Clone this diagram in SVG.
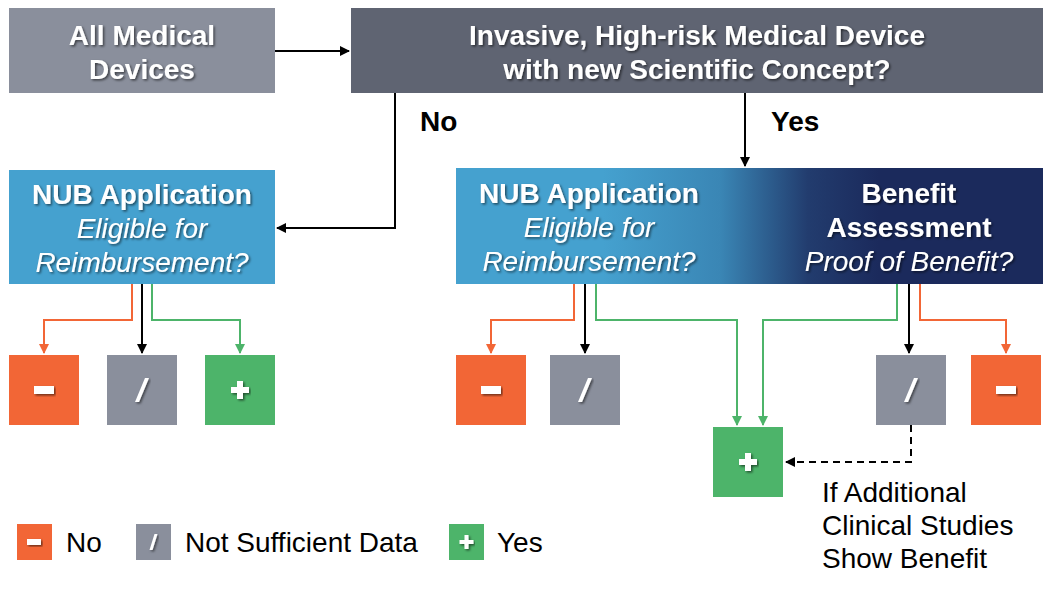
<svg xmlns="http://www.w3.org/2000/svg" width="1052" height="589" viewBox="0 0 1052 589">
<style>
.t{font-family:"Liberation Sans",Arial,sans-serif;fill:#fff;text-anchor:middle;font-size:28px}
.b{font-weight:bold}
.i{font-style:italic}
.k{font-family:"Liberation Sans",Arial,sans-serif;fill:#000;font-size:28px}
.c{fill:none;stroke-width:2}
.sym{fill:#fff}
</style>
<defs>
<filter id="sh" x="-10%" y="-20%" width="120%" height="150%">
<feDropShadow dx="1.5" dy="1.5" stdDeviation="0.8" flood-color="#000" flood-opacity="0.55"/>
</filter>
<linearGradient id="g" x1="0" y1="0" x2="1" y2="0">
<stop offset="0.25" stop-color="#45a1cf"/>
<stop offset="0.45" stop-color="#3a86b5"/>
<stop offset="0.6" stop-color="#223c6e"/>
<stop offset="0.72" stop-color="#1b2a5c"/>
<stop offset="1" stop-color="#1b2a5c"/>
</linearGradient>
<marker id="ak" markerWidth="10" markerHeight="10" refX="9" refY="5" orient="auto" markerUnits="userSpaceOnUse"><path d="M0,0 L10,5 L0,10 z" fill="#000"/></marker>
<marker id="ar" markerWidth="10" markerHeight="10" refX="9" refY="5" orient="auto" markerUnits="userSpaceOnUse"><path d="M0,0 L10,5 L0,10 z" fill="#f26636"/></marker>
<marker id="ag" markerWidth="10" markerHeight="10" refX="9" refY="5" orient="auto" markerUnits="userSpaceOnUse"><path d="M0,0 L10,5 L0,10 z" fill="#4db46a"/></marker>
<g id="minus"><rect x="-10" y="-4" width="20" height="8" class="sym" filter="url(#sh)"/></g>
<g id="slash"><path d="M3,-12 L7,-12 L-3,12 L-7,12 z" class="sym" filter="url(#sh)"/></g>
<g id="plus"><path d="M-3,-9 H3 V-3 H9 V3 H3 V9 H-3 V3 H-9 V-3 H-3 z" class="sym" filter="url(#sh)"/></g>
</defs>
<rect width="1052" height="589" fill="#fff"/>

<g id="connectors">
<path class="c" stroke="#000" d="M275,51 H349" marker-end="url(#ak)"/>
<path class="c" stroke="#000" d="M395,93 V228 H277" marker-end="url(#ak)"/>
<path class="c" stroke="#000" d="M745,93 V166" marker-end="url(#ak)"/>
<path class="c" stroke="#f26636" d="M132,284 V320 H44 V353" marker-end="url(#ar)"/>
<path class="c" stroke="#000" d="M142,284 V353" marker-end="url(#ak)"/>
<path class="c" stroke="#4db46a" d="M152,284 V320 H240 V353" marker-end="url(#ag)"/>
<path class="c" stroke="#f26636" d="M574,284 V320 H491 V353" marker-end="url(#ar)"/>
<path class="c" stroke="#000" d="M585,284 V353" marker-end="url(#ak)"/>
<path class="c" stroke="#4db46a" d="M596,284 V320 H737 V425" marker-end="url(#ag)"/>
<path class="c" stroke="#4db46a" d="M897,284 V320 H763 V425" marker-end="url(#ag)"/>
<path class="c" stroke="#000" d="M909,284 V353" marker-end="url(#ak)"/>
<path class="c" stroke="#f26636" d="M920,284 V320 H1006 V353" marker-end="url(#ar)"/>
<path class="c" stroke="#000" stroke-dasharray="7,5" d="M911,425 V462 H786" marker-end="url(#ak)"/>
</g>

<g id="all-devices">
<rect x="9" y="8" width="266" height="85" fill="#8a8f9c"/>
<text class="t b" filter="url(#sh)" x="142" y="45">All Medical</text>
<text class="t b" filter="url(#sh)" x="142" y="79">Devices</text>
</g>

<g id="invasive">
<rect x="351" y="8" width="692" height="85" fill="#5f6472"/>
<text class="t b" filter="url(#sh)" x="697" y="45">Invasive, High-risk Medical Device</text>
<text class="t b" filter="url(#sh)" x="697" y="79">with new Scientific Concept?</text>
</g>

<text id="label-no" class="k b" x="420" y="131">No</text>
<text id="label-yes" class="k b" x="771" y="131">Yes</text>

<g id="nub-left">
<rect x="9" y="170" width="266" height="114" fill="#45a1cf"/>
<text class="t b" filter="url(#sh)" x="142" y="204">NUB Application</text>
<text class="t i" filter="url(#sh)" x="142" y="238">Eligible for</text>
<text class="t i" filter="url(#sh)" x="142" y="272">Reimbursement?</text>
</g>

<g id="nub-benefit">
<rect x="456" y="168" width="587" height="116" fill="url(#g)"/>
<text class="t b" filter="url(#sh)" x="589" y="203">NUB Application</text>
<text class="t i" filter="url(#sh)" x="589" y="237">Eligible for</text>
<text class="t i" filter="url(#sh)" x="589" y="271">Reimbursement?</text>
<text class="t b" filter="url(#sh)" x="909" y="203">Benefit</text>
<text class="t b" filter="url(#sh)" x="909" y="237">Assessment</text>
<text class="t i" filter="url(#sh)" x="909" y="271">Proof of Benefit?</text>
</g>

<g id="left-no"><rect x="9" y="355" width="70" height="70" fill="#f26636"/><use href="#minus" x="44" y="390"/></g>
<g id="left-insuff"><rect x="107" y="355" width="70" height="70" fill="#8a8f9c"/><use href="#slash" x="142" y="390"/></g>
<g id="left-yes"><rect x="205" y="355" width="70" height="70" fill="#4db46a"/><use href="#plus" x="240" y="390"/></g>

<g id="right-no1"><rect x="456" y="355" width="70" height="70" fill="#f26636"/><use href="#minus" x="491" y="390"/></g>
<g id="right-insuff1"><rect x="550" y="355" width="70" height="70" fill="#8a8f9c"/><use href="#slash" x="585" y="390"/></g>
<g id="right-yes"><rect x="713" y="427" width="70" height="70" fill="#4db46a"/><use href="#plus" x="748" y="462"/></g>
<g id="right-insuff2"><rect x="876" y="355" width="70" height="70" fill="#8a8f9c"/><use href="#slash" x="911" y="390"/></g>
<g id="right-no2"><rect x="971" y="355" width="70" height="70" fill="#f26636"/><use href="#minus" x="1006" y="390"/></g>

<g id="note">
<text class="k" x="822" y="502">If Additional</text>
<text class="k" x="822" y="535">Clinical Studies</text>
<text class="k" x="822" y="568">Show Benefit</text>
</g>

<g id="legend">
<rect x="17" y="524" width="35" height="36" fill="#f26636"/>
<rect x="27" y="539" width="14" height="6" class="sym" filter="url(#sh)"/>
<text class="k" x="66" y="552">No</text>
<rect x="136" y="524" width="35" height="36" fill="#8a8f9c"/>
<path d="M154.5,534 L157.5,534 L152.5,550 L149.5,550 z" class="sym" filter="url(#sh)"/>
<text class="k" x="185" y="552">Not Sufficient Data</text>
<rect x="449" y="524" width="35" height="36" fill="#4db46a"/>
<path d="M464.5,535 H468.5 V540 H473.5 V544 H468.5 V549 H464.5 V544 H459.5 V540 H464.5 z" class="sym" filter="url(#sh)"/>
<text class="k" x="497" y="552">Yes</text>
</g>
</svg>
